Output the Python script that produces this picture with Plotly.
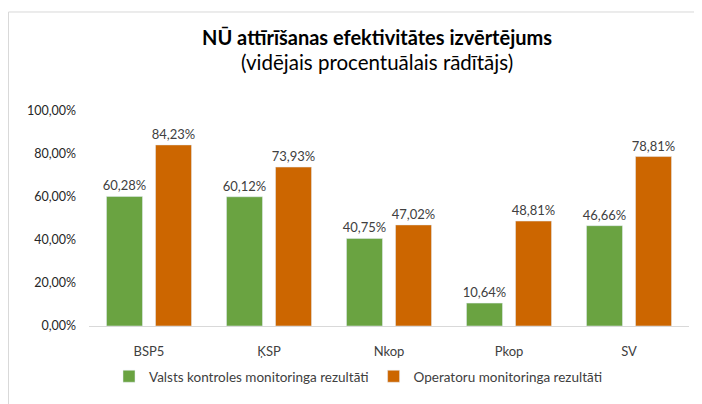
import plotly.graph_objects as go

categories = ["BSP5", "ĶSP", "Nkop", "Pkop", "SV"]
series_names = ["Valsts kontroles monitoringa rezultāti", "Operatoru monitoringa rezultāti"]
valsts = [60.28, 60.12, 40.75, 10.64, 46.66]
operatoru = [84.23, 73.93, 47.02, 48.81, 78.81]
tick_vals = [0, 20, 40, 60, 80, 100]
tick_text = ["0,00%", "20,00%", "40,00%", "60,00%", "80,00%", "100,00%"]
colors = ["#6AA341", "#CC6600"]

def fmt(v):
    return f"{v:.2f}".replace(".", ",") + "%"

FONT = "Lato"
OFF = 8  # page body margin
W, H = 702 - OFF, 404 - OFF
# plot area in screen pixels: x 89..689, y 110.5..332
L = 89 - OFF
R = W - (689 - OFF)
T = 110.5 - OFF
B = H - (332 - OFF)
pw, ph = W - L - R, H - T - B

def px_x(p):  # screen pixel -> paper
    return (p - OFF - L) / pw

def px_y(p):
    return (H - B - (p - OFF)) / ph

fig = go.Figure()
for name, vals, col in zip(series_names, [valsts, operatoru], colors):
    fig.add_trace(go.Bar(
        x=categories, y=vals, name=name, marker_color=col,
        text=[fmt(v) for v in vals], textposition="outside",
        textfont=dict(family=FONT, size=13, color="#404040"),
        constraintext="none", cliponaxis=False,
    ))

fig.add_shape(type="rect", xref="paper", yref="paper",
              x0=px_x(8.5), x1=px_x(720), y0=px_y(8.5), y1=px_y(420),
              line=dict(color="#D9D9D9", width=1), fillcolor="rgba(0,0,0,0)", layer="below")

fig.add_annotation(xref="paper", yref="paper", x=px_x(377), y=px_y(34),
                   text="<b>NŪ attīrīšanas efektivitātes izvērtējums</b>", showarrow=False,
                   font=dict(family=FONT, size=20, color="#000000"), xanchor="center", yanchor="middle")
fig.add_annotation(xref="paper", yref="paper", x=px_x(377), y=px_y(60),
                   text="(vidējais procentuālais rādītājs)", showarrow=False,
                   font=dict(family=FONT, size=20.5, color="#000000"), xanchor="center", yanchor="middle")

fig.update_layout(
    width=W, height=H,
    margin=dict(l=L, r=R, t=T, b=B, pad=0),
    paper_bgcolor="white", plot_bgcolor="white",
    barmode="group", bargap=0.183, bargroupgap=0.265,
    showlegend=True,
    legend=dict(orientation="h", x=px_x(358), y=px_y(384), xanchor="center", yanchor="middle",
                font=dict(family=FONT, size=13.5, color="#404040"), itemwidth=30),
    xaxis=dict(showgrid=False, showline=True, linecolor="#D9D9D9", linewidth=1,
               ticks="", tickfont=dict(family=FONT, size=13, color="#404040"), ticklabelstandoff=13),
    yaxis=dict(range=[0, 100], tickvals=tick_vals, ticktext=tick_text, showgrid=False,
               zeroline=False, showline=False, ticks="", ticklabelstandoff=12,
               tickfont=dict(family=FONT, size=12.5, color="#262626")),
)

fig.write_html("out.html")
